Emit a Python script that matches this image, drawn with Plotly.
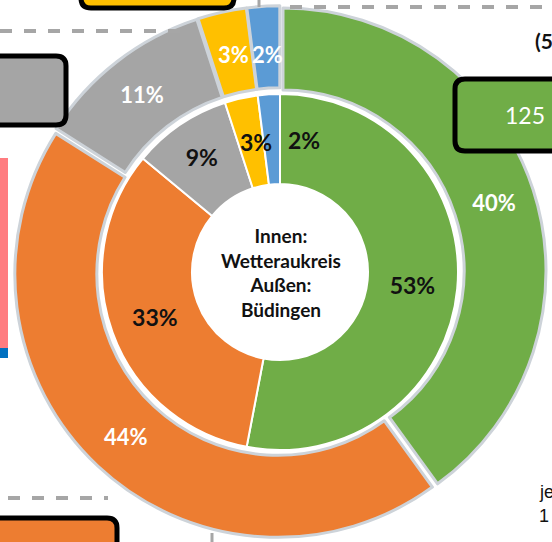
import plotly.graph_objects as go

# Anteile (Prozent) – Reihenfolge im Uhrzeigersinn ab 12 Uhr
kategorien = ["Grün", "Orange", "Grau", "Gelb", "Blau"]
farben = ["#70AD47", "#ED7D31", "#A5A5A5", "#FFC000", "#5B9BD5"]
innen_werte = [53, 33, 9, 3, 2]    # Wetteraukreis
aussen_werte = [40, 44, 11, 3, 2]  # Büdingen

W, H = 552, 542
cx, cy = 280, 272        # Mittelpunkt in Pixeln
r_aussen, r_aussen_innen = 263, 181
r_innen, r_loch = 178, 88
pull = 0.012


def domain(r, p=0.0):
    h = r * (1 + p)
    return dict(x=[(cx - h) / W, (cx + h) / W],
                y=[1 - (cy + h) / H, 1 - (cy - h) / H])


def fx(x):
    return x / W


def fy(y):
    return 1 - y / H


# kleine Segmente: Beschriftung wird separat gesetzt
aussen_text = [f"<b>{v}%</b>" for v in aussen_werte]
aussen_text[3] = aussen_text[4] = ""
innen_text = [f"<b>{v}%</b>" for v in innen_werte]
innen_text[3] = innen_text[4] = ""

fig = go.Figure()

# Außenring: Büdingen
fig.add_trace(go.Pie(
    labels=kategorien,
    values=aussen_werte,
    sort=False,
    direction="clockwise",
    hole=r_aussen_innen / r_aussen,
    pull=[pull] * len(aussen_werte),
    domain=domain(r_aussen, pull),
    marker=dict(colors=farben, line=dict(color="#CDD3D9", width=3)),
    text=aussen_text,
    textinfo="text",
    textposition="inside",
    insidetextorientation="horizontal",
    textfont=dict(family="Lato", size=22, color="white"),
    showlegend=False,
))

# Innenring: Wetteraukreis
fig.add_trace(go.Pie(
    labels=kategorien,
    values=innen_werte,
    sort=False,
    direction="clockwise",
    hole=r_loch / r_innen,
    domain=domain(r_innen),
    marker=dict(colors=farben, line=dict(color="white", width=2)),
    text=innen_text,
    textinfo="text",
    textposition="inside",
    insidetextorientation="horizontal",
    textfont=dict(family="Lato", size=23, color="#111111"),
    showlegend=False,
))


def notiz(x, y, text, size, color, bold=False, family="Lato", xanchor="center"):
    if bold:
        text = f"<b>{text}</b>"
    return dict(x=fx(x), y=fy(y), xref="paper", yref="paper", xanchor=xanchor,
                yanchor="middle", text=text, showarrow=False,
                font=dict(family=family, size=size, color=color))


annotations = [
    notiz(cx + 1, cy, "Innen:<br>Wetteraukreis<br>Außen:<br>Büdingen", 19, "#111111", True),
    # Beschriftungen der schmalen Segmente
    notiz(233, 55, f"{aussen_werte[3]}%", 22, "white", True),
    notiz(267, 55, f"{aussen_werte[4]}%", 22, "white", True),
    notiz(256, 142, f"{innen_werte[3]}%", 23, "#111111", True),
    notiz(304, 140, f"{innen_werte[4]}%", 23, "#111111", True),
    # angeschnittene Texte am Rand
    notiz(503, 115, "125", 23, "white", xanchor="left"),
    notiz(533, 40, "(5", 21, "#111111", True, xanchor="left"),
    notiz(537, 492, "je", 18, "#111111", family="Liberation Sans", xanchor="left"),
    notiz(537, 516, "1", 18, "#111111", family="Liberation Sans", xanchor="left"),
]


def rund_rect(x0, y0, x1, y1, r=10):
    # abgerundetes Rechteck als Pfad in Papierkoordinaten
    p = [
        f"M {fx(x0 + r)},{fy(y0)}",
        f"L {fx(x1 - r)},{fy(y0)}",
        f"Q {fx(x1)},{fy(y0)} {fx(x1)},{fy(y0 + r)}",
        f"L {fx(x1)},{fy(y1 - r)}",
        f"Q {fx(x1)},{fy(y1)} {fx(x1 - r)},{fy(y1)}",
        f"L {fx(x0 + r)},{fy(y1)}",
        f"Q {fx(x0)},{fy(y1)} {fx(x0)},{fy(y1 - r)}",
        f"L {fx(x0)},{fy(y0 + r)}",
        f"Q {fx(x0)},{fy(y0)} {fx(x0 + r)},{fy(y0)}",
        "Z",
    ]
    return " ".join(p)


def px(x0, y0, x1, y1):
    return dict(xref="paper", yref="paper", x0=fx(x0), x1=fx(x1), y0=fy(y0), y1=fy(y1))


rahmen = dict(color="black", width=5)
dash = dict(color="#A6A6A6", width=4, dash="dash")
shapes = [
    # Kästen am Rand (angeschnitten)
    dict(type="path", path=rund_rect(81, -40, 234, 8), fillcolor="#FFC000", line=rahmen,
         xref="paper", yref="paper"),
    dict(type="path", path=rund_rect(-30, 56, 66, 125), fillcolor="#A5A5A5", line=rahmen,
         xref="paper", yref="paper"),
    dict(type="path", path=rund_rect(455, 79, 600, 151), fillcolor="#70AD47", line=rahmen,
         xref="paper", yref="paper"),
    dict(type="path", path=rund_rect(-30, 518, 117, 600), fillcolor="#ED7D31", line=rahmen,
         xref="paper", yref="paper"),
    # Farbbalken links
    dict(type="rect", fillcolor="#FF7C80", line=dict(width=0), **px(0, 158, 8, 348)),
    dict(type="rect", fillcolor="#0070C0", line=dict(width=0), **px(0, 348, 8, 358)),
    # gestrichelte Linien
    dict(type="line", line=dash, **px(0, 31, 183, 31)),
    dict(type="line", line=dash, **px(290, 7, 552, 7)),
    dict(type="line", line=dash, **px(8, 498, 108, 498)),
    dict(type="line", line=dict(color="#A6A6A6", width=3), **px(259, 0, 259, 7)),
    dict(type="line", line=dict(color="#A6A6A6", width=3), **px(212, 533, 212, 542)),
]

fig.update_layout(
    width=W,
    height=H,
    margin=dict(l=0, r=0, t=0, b=0),
    paper_bgcolor="white",
    plot_bgcolor="white",
    uniformtext=dict(minsize=22, mode="show"),
    annotations=annotations,
    shapes=shapes,
)

fig.write_html("out.html", config={"displayModeBar": False},
               post_script="document.body.style.margin='0';")
